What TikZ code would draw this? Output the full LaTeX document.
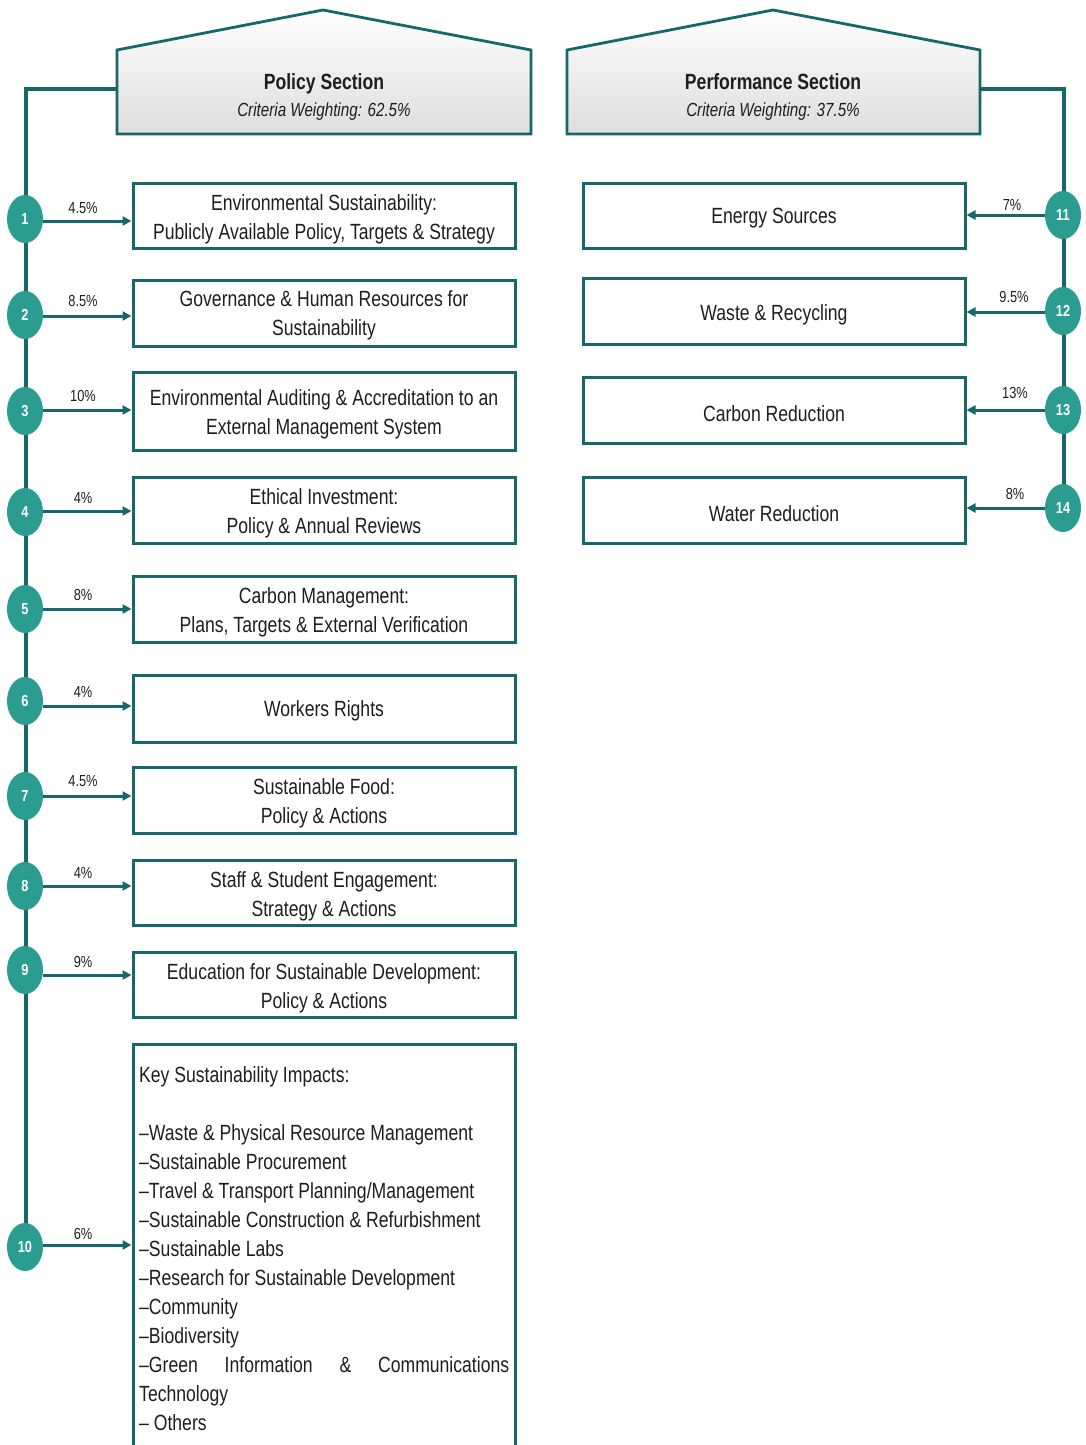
\documentclass[tikz,border=0pt]{standalone}
\usepackage{fontspec}
\setmainfont{Liberation Sans}[FakeStretch=0.8]
\usetikzlibrary{arrows.meta,shapes.geometric}
\definecolor{tl}{HTML}{17686B}
\definecolor{cf}{HTML}{2A9D90}
\definecolor{tx}{HTML}{1E1E1E}
\begin{document}
\begin{tikzpicture}[x=1pt,y=-1pt,
 line/.style={draw=tl, line width=3.2pt},
 head/.style={draw=tl, line width=2.8pt, top color=white, middle color=white, bottom color=black!13, line join=miter},
 htitle/.style={text=tx, inner sep=0pt, anchor=base, font=\bfseries\fontsize{22}{27}\selectfont},
 hsub/.style={text=tx, inner sep=0pt, anchor=base, font=\itshape\fontsize{19}{24}\selectfont},
 box/.style={draw=tl, line width=3pt, minimum width=382pt, inner sep=0pt},
 btext/.style={align=center, text=tx, font=\fontsize{22}{29}\selectfont, inner sep=0pt},
 num/.style={ellipse, fill=cf, minimum width=36pt, minimum height=48pt, inner sep=0pt, text=white, font=\bfseries\fontsize{16}{16}\selectfont},
 pct/.style={text=tx, font=\fontsize{16}{16}\selectfont, inner sep=0pt},
 arr/.style={draw=tl, line width=3pt, -{Triangle[length=9pt,width=9pt]}},
]
\useasboundingbox (0,0) rectangle (1085,1445);
% headers
\path[head] (117,134) -- (117,50) -- (323,10) -- (531,50) -- (531,134) -- cycle;
\path[head] (567,134) -- (567,50) -- (773,10) -- (980,50) -- (980,134) -- cycle;
\node[htitle] (pht) at (324,89) {Policy Section};
\node[hsub] (phs) at (324,116) {Criteria Weighting: 62.5\%};
\node[htitle] (rht) at (773,89) {Performance Section};
\node[hsub] (rhs) at (773,116) {Criteria Weighting: 37.5\%};
\coordinate (pl) at (117,89);
\coordinate (pr) at (980,89);
% left boxes
\node[box, minimum height=65pt] (b1) at (324,215.5) {};
\node[box, minimum height=66pt] (b2) at (324,313) {};
\node[box, minimum height=78pt] (b3) at (324,411) {};
\node[box, minimum height=66pt] (b4) at (324,510) {};
\node[box, minimum height=66pt] (b5) at (324,609) {};
\node[box, minimum height=67pt] (b6) at (324,708.5) {};
\node[box, minimum height=66pt] (b7) at (324,800) {};
\node[box, minimum height=65pt] (b8) at (324,892.5) {};
\node[box, minimum height=65pt] (b9) at (324,984.5) {};
\node[box, minimum height=420pt] (b10) at (324,1254) {};
\node[btext] (t1) at (324,219) {Environmental Sustainability:\\Publicly Available Policy, Targets \& Strategy};
\node[btext] (t2) at (324,315.5) {Governance \& Human Resources for\\Sustainability};
\node[btext] (t3) at (324,414.5) {Environmental Auditing \& Accreditation to an\\External Management System};
\node[btext] (t4) at (324,513) {Ethical Investment:\\Policy \& Annual Reviews};
\node[btext] (t5) at (324,612) {Carbon Management:\\Plans, Targets \& External Verification};
\node[btext] (t6) at (324,710.5) {Workers Rights};
\node[btext] (t7) at (324,803) {Sustainable Food:\\Policy \& Actions};
\node[btext] (t8) at (324,896) {Staff \& Student Engagement:\\Strategy \& Actions};
\node[btext] (t9) at (324,988) {Education for Sustainable Development:\\Policy \& Actions};
\node[anchor=north west, align=left, inner sep=0pt, text=tx, font=\fontsize{22}{29}\selectfont] (b10t) at (139,1066) {Key Sustainability Impacts:\\[29pt]
–Waste \& Physical Resource Management\\
–Sustainable Procurement\\
–Travel \& Transport Planning/Management\\
–Sustainable Construction \& Refurbishment\\
–Sustainable Labs\\
–Research for Sustainable Development\\
–Community\\
–Biodiversity\\
\makebox[370pt][s]{–Green Information \& Communications}\\
Technology\\
– Others};
% right boxes
\node[box, minimum height=65pt] (b11) at (774,215.5) {};
\node[box, minimum height=66pt] (b12) at (774,311) {};
\node[box, minimum height=66pt] (b13) at (774,410) {};
\node[box, minimum height=66pt] (b14) at (774,510) {};
\node[btext] (t11) at (774,218.5) {Energy Sources};
\node[btext] (t12) at (774,314.5) {Waste \& Recycling};
\node[btext] (t13) at (774,413.5) {Carbon Reduction};
\node[btext] (t14) at (774,513.5) {Water Reduction};
% trunks
\draw[line] (pl) -- (26,89) -- (26,1247);
\draw[line] (pr) -- (1064,89) -- (1064,508);
% circles
\node[num] (c1) at (25,219) {1};
\node[num] (c2) at (25,315) {2};
\node[num] (c3) at (25,411) {3};
\node[num] (c4) at (25,512) {4};
\node[num] (c5) at (25,609) {5};
\node[num] (c6) at (25,701) {6};
\node[num] (c7) at (25,796) {7};
\node[num] (c8) at (25,886) {8};
\node[num] (c9) at (25,970) {9};
\node[num] (c10) at (25,1247) {10};
\node[num] (c11) at (1063,215) {11};
\node[num] (c12) at (1063,311) {12};
\node[num] (c13) at (1063,410) {13};
\node[num] (c14) at (1063,508) {14};
% arrows left
\draw[arr] (c1.east |- 0,221) -- (b1.west |- 0,221);
\draw[arr] (c2.east |- 0,316) -- (b2.west |- 0,316);
\draw[arr] (c3.east |- 0,410) -- (b3.west |- 0,410);
\draw[arr] (c4.east |- 0,511) -- (b4.west |- 0,511);
\draw[arr] (c5.east |- 0,609) -- (b5.west |- 0,609);
\draw[arr] (c6.east |- 0,706) -- (b6.west |- 0,706);
\draw[arr] (c7.east |- 0,796) -- (b7.west |- 0,796);
\draw[arr] (c8.east |- 0,886) -- (b8.west |- 0,886);
\draw[arr] (c9.east |- 0,975) -- (b9.west |- 0,975);
\draw[arr] (c10.east |- 0,1245) -- (b10.west |- 0,1245);
% arrows right
\draw[arr] (c11.west |- 0,215) -- (b11.east |- 0,215);
\draw[arr] (c12.west |- 0,312) -- (b12.east |- 0,312);
\draw[arr] (c13.west |- 0,410) -- (b13.east |- 0,410);
\draw[arr] (c14.west |- 0,508) -- (b14.east |- 0,508);
% labels
\node[pct] (l1) at (83,208) {4.5\%};
\node[pct] (l2) at (83,301) {8.5\%};
\node[pct] (l3) at (83,396) {10\%};
\node[pct] (l4) at (83,498) {4\%};
\node[pct] (l5) at (83,595) {8\%};
\node[pct] (l6) at (83,692) {4\%};
\node[pct] (l7) at (83,781) {4.5\%};
\node[pct] (l8) at (83,873) {4\%};
\node[pct] (l9) at (83,962) {9\%};
\node[pct] (l10) at (83,1234) {6\%};
\node[pct] (l11) at (1012,205) {7\%};
\node[pct] (l12) at (1014,297) {9.5\%};
\node[pct] (l13) at (1015,393) {13\%};
\node[pct] (l14) at (1015,494) {8\%};
\end{tikzpicture}
\end{document}
